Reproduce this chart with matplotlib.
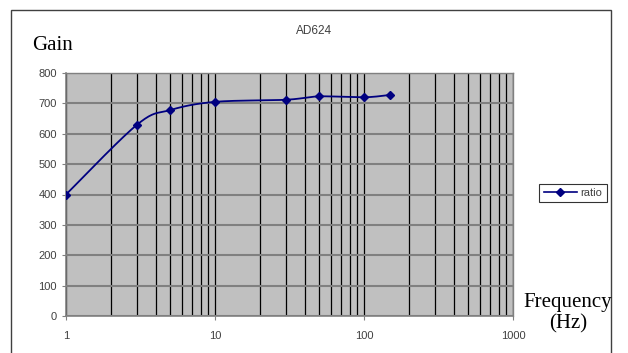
import numpy as np
import matplotlib
matplotlib.use("Agg")
import matplotlib.pyplot as plt
from matplotlib.patches import Rectangle
from matplotlib.ticker import FixedLocator, NullFormatter
from matplotlib.lines import Line2D

freq = [1, 3, 5, 10, 30, 50, 100, 150]
gain = [400, 630, 678, 705, 712, 723, 720, 728]
y_ticks = [0, 100, 200, 300, 400, 500, 600, 700, 800]
x_ticks = [1, 10, 100, 1000]
x_tick_labels = ["1", "10", "100", "1000"]
title = "AD624"
series_name = "ratio"

AX_W, AX_H = 447.0, 243.0  # plot area size in pixels
SANS = "Liberation Sans"
SERIF = "Liberation Serif"


def smooth(xs, ys, n=30):
    # Excel-like smoothed line: Bezier with Catmull-Rom control points,
    # computed in screen-proportional coordinates
    u = np.log10(np.array(xs, float)) / 3.0 * AX_W
    v = np.array(ys, float) / 800.0 * AX_H
    P = np.column_stack([u, v])
    P = np.vstack([P[0], P, P[-1]])
    out = []
    for i in range(1, len(P) - 2):
        p0, p1, p2, p3 = P[i - 1], P[i], P[i + 1], P[i + 2]
        c1 = p1 + (p2 - p0) / 6
        c2 = p2 - (p3 - p1) / 6
        t = np.linspace(0, 1, n)[:, None]
        seg = ((1 - t) ** 3) * p1 + 3 * ((1 - t) ** 2) * t * c1 + 3 * (1 - t) * t ** 2 * c2 + t ** 3 * p2
        out.append(seg)
    out = np.vstack(out)
    return 10 ** (out[:, 0] / AX_W * 3.0), out[:, 1] / AX_H * 800.0


fig = plt.figure(figsize=(6.28, 3.53), dpi=100)
fig.patch.set_facecolor("white")

# outer chart frame
fig.patches.append(Rectangle((11 / 628, -0.05), 600 / 628, 1 - 10 / 353 + 0.05,
                             transform=fig.transFigure, fill=False,
                             edgecolor="#404040", linewidth=1.0))

ax = fig.add_axes([66 / 628, 1 - 316 / 353, AX_W / 628, AX_H / 353])
ax.set_facecolor("#C0C0C0")
ax.set_xscale("log")
ax.set_xlim(1, 1000)
ax.set_ylim(0, 800)

ax.xaxis.set_major_locator(FixedLocator(x_ticks))
ax.set_xticklabels(x_tick_labels)
minors = [m * d for d in (1, 10, 100) for m in range(2, 10)]
ax.xaxis.set_minor_locator(FixedLocator(minors))
ax.xaxis.set_minor_formatter(NullFormatter())
ax.set_yticks(y_ticks)

ax.grid(True, which="both", axis="x", color="black", linewidth=0.9)
ax.grid(True, which="major", axis="y", color="#808080", linewidth=1.5)
ax.set_axisbelow(True)

for s in ["top", "right"]:
    ax.spines[s].set_color("#808080")
    ax.spines[s].set_linewidth(1.0)
for s in ["left", "bottom"]:
    ax.spines[s].set_color("#808080")
    ax.spines[s].set_linewidth(1.2)

ax.tick_params(axis="both", which="major", labelsize=8, colors="#808080",
               labelcolor="#404040", length=3, width=0.8)
ax.tick_params(axis="x", which="minor", length=0)
ax.tick_params(axis="x", which="major", pad=8)
for lab in ax.get_xticklabels() + ax.get_yticklabels():
    lab.set_family(SANS)

sx, sy = smooth(freq, gain)
ax.plot(sx, sy, color="#000080", linewidth=1.3, zorder=3)
ax.plot(freq, gain, linestyle="none", marker="D", markersize=4,
        color="#000080", zorder=4)

h = Line2D([], [], color="#000080", marker="D", markersize=4, linewidth=1.2)
leg = fig.legend([h], [series_name], loc="center", bbox_to_anchor=(573 / 628, 1 - 193 / 353),
                 prop={"family": SANS, "size": 8}, frameon=True, fancybox=False,
                 edgecolor="black", handlelength=3, borderpad=0.4, handletextpad=0.3)
leg.get_frame().set_linewidth(0.8)
for t in leg.get_texts():
    t.set_color("#404040")

fig.text(314 / 628, 1 - 31 / 353, title, ha="center", va="center", fontsize=8.5,
         family=SANS, color="#404040")
fig.text(32 / 628, 1 - 46 / 353, "Gain", ha="left", va="center", fontsize=15,
         family=SERIF)
fig.text(568 / 628, 1 - 313 / 353, "Frequency\n(Hz)", ha="center", va="center",
         fontsize=15, family=SERIF, linespacing=1.15)

fig.savefig("out.png", dpi=100)
